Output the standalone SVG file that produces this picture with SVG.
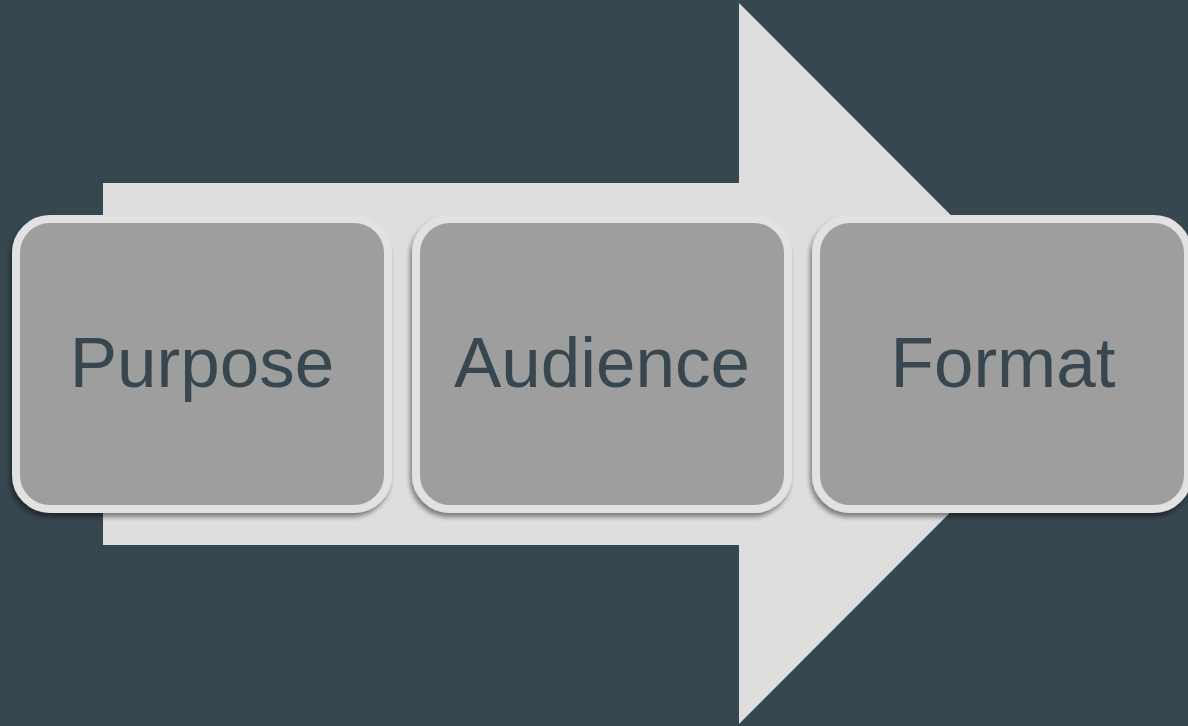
<svg xmlns="http://www.w3.org/2000/svg" width="1188" height="726" viewBox="0 0 1188 726">
  <defs>
    <filter id="shadow" x="-10%" y="-10%" width="120%" height="125%">
      <feGaussianBlur in="SourceAlpha" stdDeviation="2.5"/>
      <feOffset dx="-2" dy="4" result="off"/>
      <feComponentTransfer><feFuncA type="linear" slope="0.45"/></feComponentTransfer>
      <feMerge><feMergeNode/><feMergeNode in="SourceGraphic"/></feMerge>
    </filter>
  </defs>
  <style>
    .box { fill: #9e9e9e; stroke: #e2e2e2; stroke-width: 8; }
    .label { font-family: "Liberation Sans", Arial, sans-serif; font-size: 71px; fill: #37474f; text-anchor: middle; }
  </style>
  <rect width="1188" height="726" fill="#37474f"/>
  <!-- big backdrop arrow -->
  <g id="arrow">
    <polygon points="103,183 739,183 739,3 1099,363.5 739,724 739,545 103,545" fill="#dedede"/>
  </g>
  <g id="connectors"/>
  <g id="purpose" filter="url(#shadow)">
    <rect class="box" x="16" y="219" width="372" height="290" rx="34"/>
    <text class="label" x="202" y="387">Purpose</text>
  </g>
  <g id="audience" filter="url(#shadow)">
    <rect class="box" x="416" y="219" width="372" height="290" rx="34"/>
    <text class="label" x="602" y="387">Audience</text>
  </g>
  <g id="format" filter="url(#shadow)">
    <rect class="box" x="816" y="219" width="372" height="290" rx="34"/>
    <text class="label" x="1003" y="387">Format</text>
  </g>
</svg>
